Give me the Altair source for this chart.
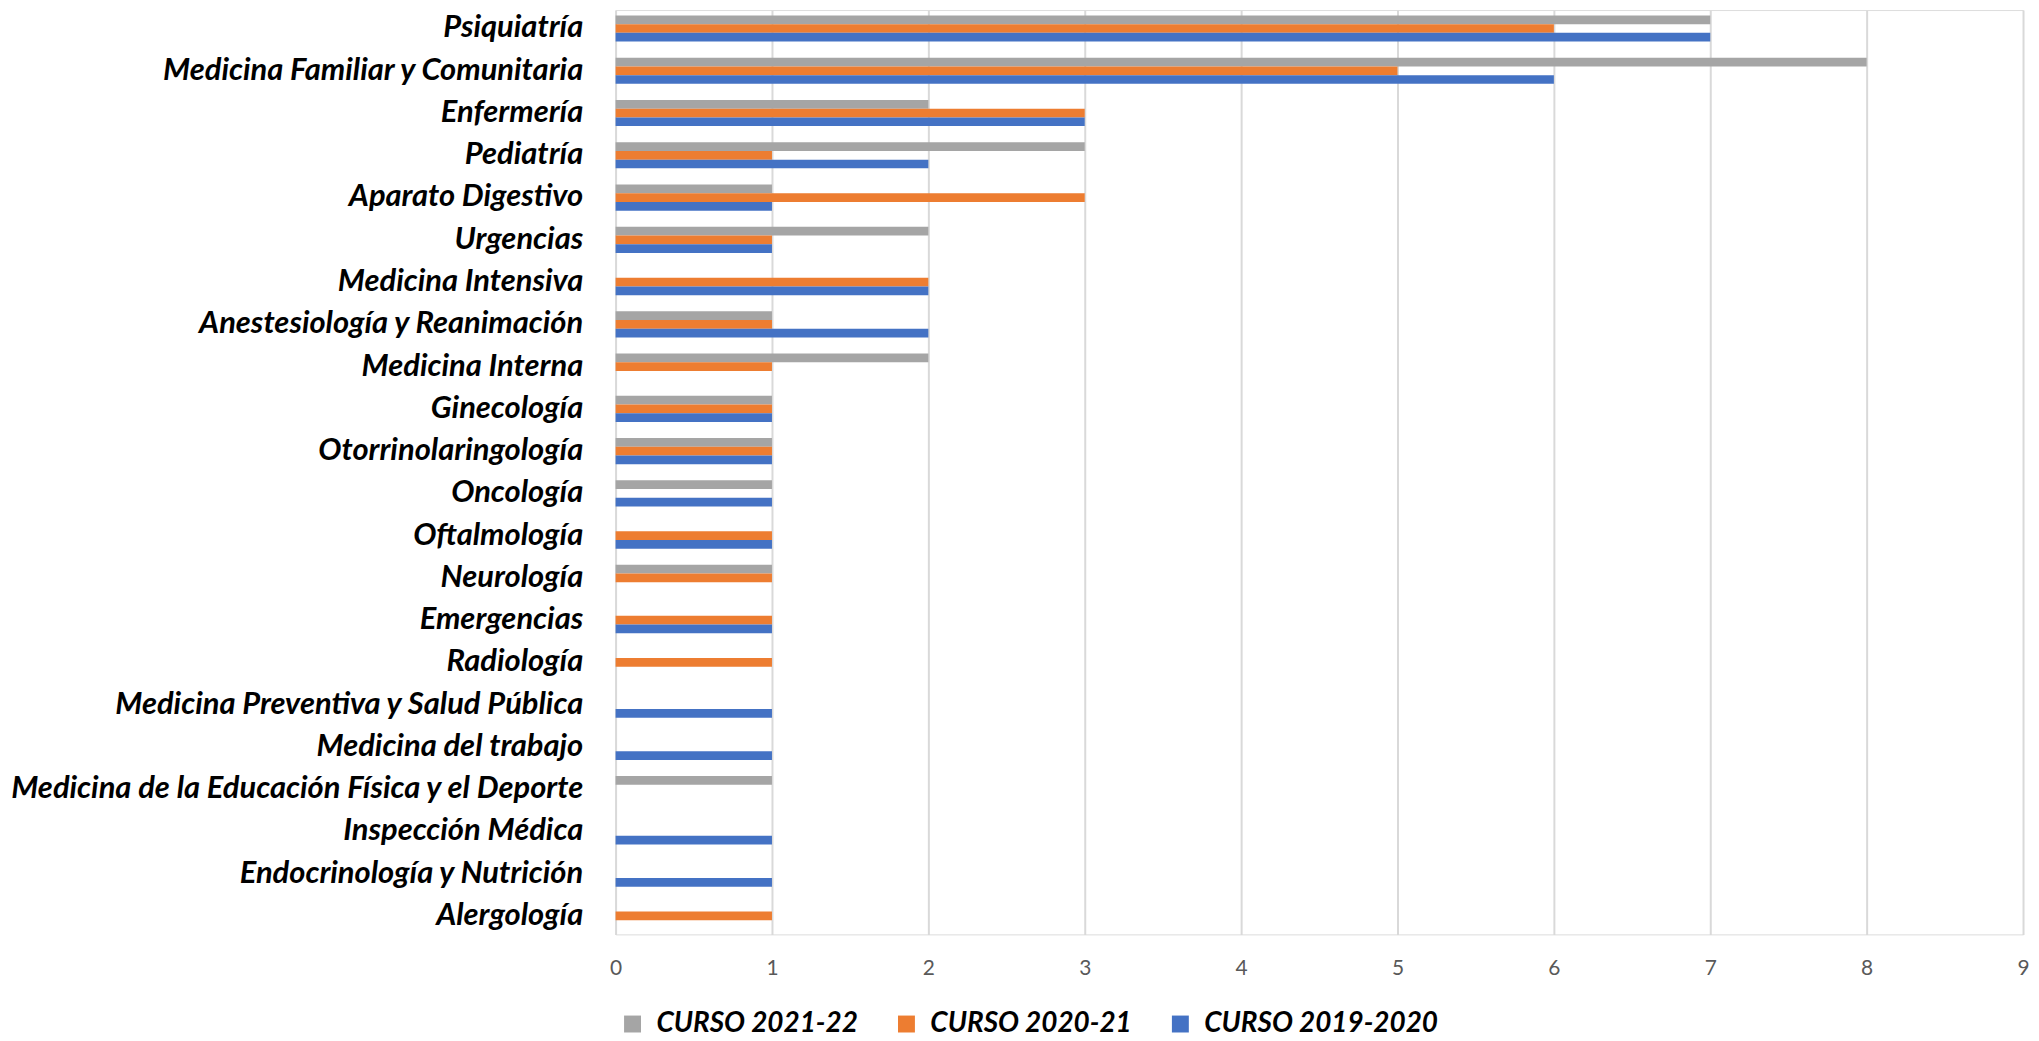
import altair as alt
import pandas as pd

especialidades = [
    "Psiquiatría",
    "Medicina Familiar y Comunitaria",
    "Enfermería",
    "Pediatría",
    "Aparato Digestivo",
    "Urgencias",
    "Medicina Intensiva",
    "Anestesiología y Reanimación",
    "Medicina Interna",
    "Ginecología",
    "Otorrinolaringología",
    "Oncología",
    "Oftalmología\u00a0",
    "Neurología",
    "Emergencias",
    "Radiología",
    "Medicina Preventiva y Salud Pública",
    "Medicina del trabajo",
    "Medicina de la Educación Física y el Deporte",
    "Inspección Médica",
    "Endocrinología y Nutrición",
    "Alergología",
]

series = ["CURSO 2021-22", "CURSO 2020-21", "CURSO 2019-2020"]
colores = ["#A5A5A5", "#ED7D31", "#4472C4"]

curso_2021_22 = [7, 8, 2, 3, 1, 2, 0, 1, 2, 1, 1, 1, 0, 1, 0, 0, 0, 0, 1, 0, 0, 0]
curso_2020_21 = [6, 5, 3, 1, 3, 1, 2, 1, 1, 1, 1, 0, 1, 1, 1, 1, 0, 0, 0, 0, 0, 1]
curso_2019_2020 = [7, 6, 3, 2, 1, 1, 2, 2, 0, 1, 1, 1, 1, 0, 1, 0, 1, 1, 0, 1, 1, 0]

rows = []
for serie, valores in zip(series, [curso_2021_22, curso_2020_21, curso_2019_2020]):
    for esp, v in zip(especialidades, valores):
        rows.append({"Especialidad": esp, "Curso": serie, "Valor": v})
df = pd.DataFrame(rows)

LABEL_FONT = "Lato"

chart = (
    alt.Chart(df)
    .mark_bar()
    .encode(
        y=alt.Y(
            "Especialidad:N",
            sort=especialidades,
            scale=alt.Scale(paddingInner=0.38, paddingOuter=0.127),
            axis=alt.Axis(
                title=None,
                ticks=False,
                domain=False,
                labelFont=LABEL_FONT,
                labelFontSize=31,
                labelFontStyle="italic",
                labelFontWeight="bold",
                labelColor="#000000",
                labelPadding=33,
                labelLimit=900,
            ),
        ),
        yOffset=alt.YOffset(
            "Curso:N",
            sort=series,
            scale=alt.Scale(domain=series, paddingInner=0, paddingOuter=0),
        ),
        x=alt.X(
            "Valor:Q",
            scale=alt.Scale(domain=[0, 9], nice=False),
            axis=alt.Axis(
                title=None,
                values=list(range(10)),
                ticks=False,
                domain=False,
                grid=True,
                gridColor="#D9D9D9",
                gridWidth=2,
                labelFont=LABEL_FONT,
                labelFontSize=21,
                labelColor="#595959",
                labelPadding=23,
                labelFlush=False,
            ),
        ),
        color=alt.Color(
            "Curso:N",
            scale=alt.Scale(domain=series, range=colores),
            legend=alt.Legend(
                title=None,
                orient="none",
                direction="horizontal",
                legendX=3,
                legendY=1004,
                symbolType="square",
                symbolSize=289,
                symbolStrokeWidth=0,
                labelFont=LABEL_FONT,
                labelFontSize=28,
                labelFontStyle="italic",
                labelFontWeight="bold",
                labelColor="#000000",
                labelOffset=10,
                columnPadding=34,
                padding=0,
                labelLimit=400,
            ),
        ),
    )
    .properties(
        width=1413,
        height=928,
        autosize=alt.AutoSizeParams(type="none"),
        padding={"left": 610, "top": 0, "right": 8, "bottom": 105},
    )
    .configure_view(stroke=None)
    .configure(background="white")
)

chart.save("out.html", embed_options={"renderer": "svg", "actions": False})
